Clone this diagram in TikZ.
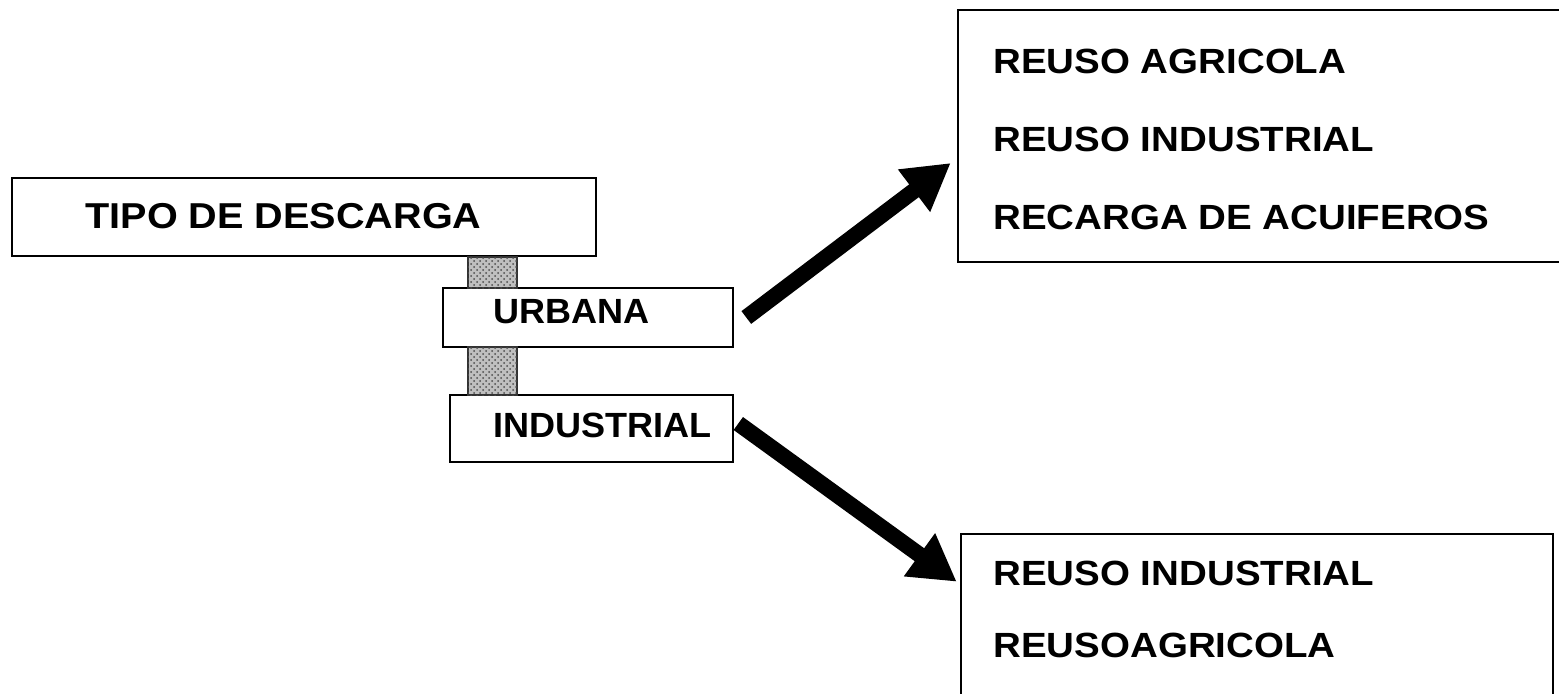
\documentclass[tikz,border=0pt]{standalone}
\usepackage{fontspec}
\setmainfont{Liberation Sans}[FakeStretch=1.1]
\newfontfamily\smallboxfont{Liberation Sans}[FakeStretch=1.03]
\usetikzlibrary{arrows.meta,calc,patterns}

\begin{document}
\begin{tikzpicture}[x=0.5pt,y=-0.5pt,
    box/.style={draw, line width=1.3pt, inner sep=0pt},
    label/.style={anchor=base west, inner sep=0pt, font=\fontsize{17.5}{21}\selectfont\bfseries},
    smalllabel/.style={anchor=base west, inner sep=0pt, font=\smallboxfont\fontsize{17.5}{21}\selectfont\bfseries},
    bar/.style={fill=gray!50, draw=black!80, line width=0.6pt,
        postaction={pattern=crosshatch dots, pattern color=black!70}},
    fatarrow/.style={line width=8pt, -{Triangle[length=23pt,width=25pt]}}]
    \def\u{0.5pt}
    \clip (0,0) rectangle (1559,693);

    % boxes
    \node[box, minimum width=584*\u, minimum height=78*\u] (tipo) at (304,217) {};
    \node[box, minimum width=290*\u, minimum height=59*\u] (urbana) at (588,317.5) {};
    \node[box, minimum width=283*\u, minimum height=67*\u] (industrial) at (591.5,428.5) {};
    \node[box, minimum width=622*\u, minimum height=252*\u] (reusetop) at (1269,136) {};
    \node[box, minimum width=592*\u, minimum height=226*\u] (reusebottom) at (1257,647) {};

    % gray bars between the boxes
    \path[bar] (468,257) rectangle (517,288);
    \path[bar] (468,347) rectangle (517,395);

    % texts
    \node[label, font=\fontsize{18}{21}\selectfont\bfseries] (tipotext) at (85,228) {TIPO DE DESCARGA};
    \node[smalllabel] (urbanatext) at (493,323) {URBANA};
    \node[smalllabel] (industrialtext) at (493,437) {INDUSTRIAL};
    \node[label] (topone) at (993,73) {REUSO AGRICOLA};
    \node[label] (toptwo) at (993,151) {REUSO INDUSTRIAL};
    \node[label] (topthree) at (993,229) {RECARGA DE ACUIFEROS};
    \node[label] (bottomone) at (993,585) {REUSO INDUSTRIAL};
    \node[label] (bottomtwo) at (993,657) {REUSOAGRICOLA};

    % arrows
    \draw[fatarrow] ($(urbana.east)+(12,0)$) -- ($(reusetop.west)+(-6,27)$);
    \draw[fatarrow] ($(industrial.east)+(4,-5)$) -- ($(reusebottom.north west)+(-3,49)$);
\end{tikzpicture}
\end{document}
